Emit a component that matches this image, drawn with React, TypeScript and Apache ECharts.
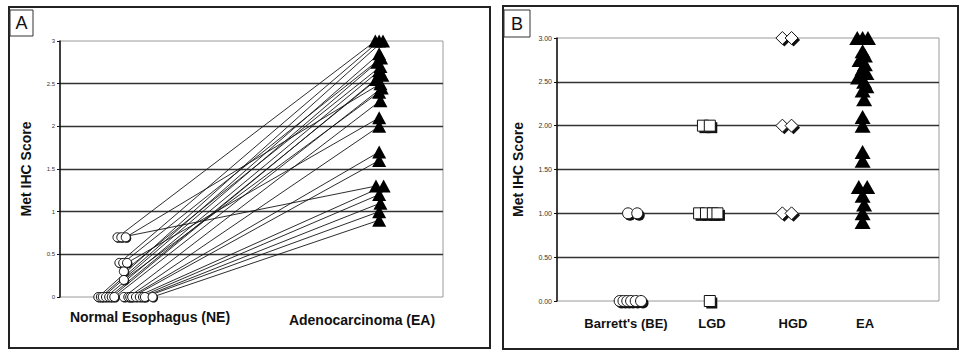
import React, { useEffect, useRef } from 'react';
import * as echarts from 'echarts';

// ---------- data ----------
const yTicksA = ['0', '0.5', '1', '1.5', '2', '2.5', '3'];
const yTicksB = ['0.00', '0.50', '1.00', '1.50', '2.00', '2.50', '3.00'];
const categoriesA = ['Normal Esophagus (NE)', 'Adenocarcinoma (EA)'];
const categoriesB = ["Barrett's (BE)", 'LGD', 'HGD', 'EA'];
const catPosA = [1, 5];
const catPosB = [1, 2, 3, 4];

// Panel A: paired NE -> EA
const neScores = [0.7, 0.7, 0.7, 0.4, 0.4, 0.4, 0.3, 0.2, 0, 0, 0, 0, 0, 0, 0, 0, 0, 0, 0, 0, 0, 0, 0, 0];
const neOffsets = [-0.1, -0.04, 0.03, -0.07, -0.01, 0.05, 0, 0, -0.4, -0.36, -0.33, -0.28, -0.23, -0.19, -0.15, 0, 0.07, 0.1, 0.13, 0.19, 0.25, 0.3, 0.33, 0.45];
const eaScores = [3.0, 3.0, 3.0, 2.85, 2.8, 2.75, 2.7, 2.65, 2.6, 2.55, 2.5, 2.45, 2.4, 2.3, 2.1, 2.0, 1.7, 1.6, 1.3, 1.3, 1.2, 1.1, 1.0, 0.9];
const eaOffsetsA = [-0.06, 0, 0.06, 0, 0.03, -0.03, 0.02, 0, 0.05, -0.05, 0.02, 0.04, 0, 0.02, 0, 0, 0, 0, -0.05, 0.07, 0, 0.02, 0, 0];
const neToEa = [0, 18, 10, 1, 4, 14, 6, 12, 2, 3, 5, 7, 8, 9, 11, 13, 15, 16, 17, 19, 20, 21, 22, 23];

// Panel B
const beScores = [1, 1, 0, 0, 0, 0, 0, 0];
const beOffsets = [-0.07, 0.05, -0.18, -0.13, -0.08, -0.03, 0.03, 0.1];
const lgdScores = [2, 2, 1, 1, 1, 1, 0];
const lgdOffsets = [-0.09, 0, -0.14, -0.05, 0.04, 0.1, 0];
const hgdScores = [3, 3, 2, 2, 1, 1];
const hgdOffsets = [-0.05, 0.07, -0.05, 0.07, -0.05, 0.07];
const eaOffsetsB = [-0.07, 0, 0.07, 0, 0.03, -0.04, 0.03, 0, 0.05, -0.06, 0.02, 0.05, 0, 0.02, 0, 0, 0, 0, -0.05, 0.06, 0, 0.02, 0, 0];

const FONT = '"Liberation Sans", Arial, sans-serif';

function pts(pos: number, scores: number[], offs: number[]) {
  return scores.map((s, i) => [pos + offs[i], s]);
}

export default function App() {
  const ref = useRef<HTMLDivElement>(null);
  useEffect(() => {
    if (!ref.current) return;
    const chart = echarts.init(ref.current, undefined, { renderer: 'svg' });

    const lineData = neScores.map((s, i) => {
      const j = neToEa[i];
      return { coords: [[catPosA[0] + neOffsets[i], s], [catPosA[1] + eaOffsetsA[j], eaScores[j]]] };
    });

    const yAxisBase = (ticks: string[], gap: number, fs: number) => ({
      type: 'value',
      min: 0,
      max: 3,
      interval: 0.5,
      name: 'Met IHC Score',
      nameLocation: 'middle',
      nameGap: gap,
      nameTextStyle: { fontFamily: FONT, fontWeight: 'bold', fontSize: 14, color: '#111' },
      axisLine: { show: true, lineStyle: { color: '#111', width: 1.5 } },
      axisTick: { show: true, length: 3, lineStyle: { color: '#111' } },
      axisLabel: {
        fontFamily: FONT,
        fontSize: fs,
        color: '#333',
        margin: 5,
        formatter: (v: number) => ticks[Math.round(v / 0.5)] ?? '',
      },
      splitLine: { show: true, showMinLine: false, showMaxLine: false, lineStyle: { color: '#333', width: 1.4 } },
    });

    const xAxisBase = (max: number) => ({
      type: 'value',
      min: 0,
      max,
      axisLine: { show: false },
      axisTick: { show: false },
      axisLabel: { show: false },
      splitLine: { show: false },
    });

    const marker = (
      gi: number,
      data: number[][],
      symbol: string,
      size: number | number[],
      hollow: boolean,
      shadowOff: number
    ) => {
      const list: any[] = [];
      if (hollow && shadowOff > 0) {
        list.push({
          type: 'scatter',
          xAxisIndex: gi,
          yAxisIndex: gi,
          data,
          symbol,
          symbolSize: size,
          symbolOffset: [shadowOff, shadowOff],
          itemStyle: { color: '#111', opacity: 1 },
          silent: true,
          z: 3,
        });
      }
      list.push({
        type: 'scatter',
        xAxisIndex: gi,
        yAxisIndex: gi,
        data,
        symbol,
        symbolSize: size,
        itemStyle: hollow
          ? { color: '#fff', borderColor: '#111', borderWidth: 1, opacity: 1 }
          : { color: '#000', opacity: 1 },
        z: 4,
      });
      return list;
    };

    const option: any = {
      animation: false,
      backgroundColor: '#fff',
      grid: [
        { left: 60, right: 516, top: 41, bottom: 55, show: true, borderColor: '#9a9a9a', borderWidth: 1 },
        { left: 557, right: 20, top: 38, bottom: 51, show: true, borderColor: '#9a9a9a', borderWidth: 1 },
      ],
      xAxis: [
        { ...xAxisBase(6), gridIndex: 0 },
        { ...xAxisBase(5), gridIndex: 1 },
      ],
      yAxis: [
        { ...yAxisBase(yTicksA, 27, 6), gridIndex: 0 },
        { ...yAxisBase(yTicksB, 32, 7), gridIndex: 1 },
      ],
      series: [
        {
          type: 'lines',
          coordinateSystem: 'cartesian2d',
          xAxisIndex: 0,
          yAxisIndex: 0,
          data: lineData,
          lineStyle: { color: '#151515', width: 0.9, opacity: 1 },
          z: 2,
        },
        ...marker(0, pts(catPosA[0], neScores, neOffsets), 'circle', 9, true, 1),
        ...marker(0, pts(catPosA[1], eaScores, eaOffsetsA), 'triangle', [14, 13], false, 0),
        ...marker(1, pts(catPosB[0], beScores, beOffsets), 'circle', 11, true, 2),
        ...marker(1, pts(catPosB[1], lgdScores, lgdOffsets), 'rect', 11, true, 2),
        ...marker(1, pts(catPosB[2], hgdScores, hgdOffsets), 'diamond', 13, true, 2),
        ...marker(1, pts(catPosB[3], eaScores, eaOffsetsB), 'triangle', [16, 14], false, 0),
      ],
      graphic: [
        // panel borders
        { type: 'rect', shape: { x: 9, y: 7, width: 481, height: 341 }, style: { fill: 'none', stroke: '#222', lineWidth: 2 }, silent: true },
        { type: 'rect', shape: { x: 503, y: 6, width: 455, height: 343 }, style: { fill: 'none', stroke: '#222', lineWidth: 2 }, silent: true },
        // panel letter boxes
        { type: 'rect', shape: { x: 10, y: 10, width: 23, height: 26 }, style: { fill: '#fff', stroke: '#333', lineWidth: 1 } },
        { type: 'text', x: 21.5, y: 23, style: { text: 'A', font: '18px ' + FONT, fill: '#111', align: 'center', verticalAlign: 'middle' } },
        { type: 'rect', shape: { x: 504, y: 10, width: 26, height: 27 }, style: { fill: '#fff', stroke: '#333', lineWidth: 1 } },
        { type: 'text', x: 517, y: 23.5, style: { text: 'B', font: '18px ' + FONT, fill: '#111', align: 'center', verticalAlign: 'middle' } },
        // category labels
        { type: 'text', x: 150, y: 317, style: { text: categoriesA[0], font: 'bold 14px ' + FONT, fill: '#111', align: 'center', verticalAlign: 'middle' } },
        { type: 'text', x: 362, y: 320, style: { text: categoriesA[1], font: 'bold 14px ' + FONT, fill: '#111', align: 'center', verticalAlign: 'middle' } },
        { type: 'text', x: 626, y: 323, style: { text: categoriesB[0], font: 'bold 13px ' + FONT, fill: '#111', align: 'center', verticalAlign: 'middle' } },
        { type: 'text', x: 712, y: 323, style: { text: categoriesB[1], font: 'bold 13px ' + FONT, fill: '#111', align: 'center', verticalAlign: 'middle' } },
        { type: 'text', x: 793, y: 323, style: { text: categoriesB[2], font: 'bold 13px ' + FONT, fill: '#111', align: 'center', verticalAlign: 'middle' } },
        { type: 'text', x: 865, y: 323, style: { text: categoriesB[3], font: 'bold 13px ' + FONT, fill: '#111', align: 'center', verticalAlign: 'middle' } },
      ],
    };
    chart.setOption(option);
    return () => chart.dispose();
  }, []);

  return (
    <div
      ref={ref}
      style={{ position: 'absolute', left: 0, top: 0, width: 959, height: 352, background: '#fff' }}
    />
  );
}
